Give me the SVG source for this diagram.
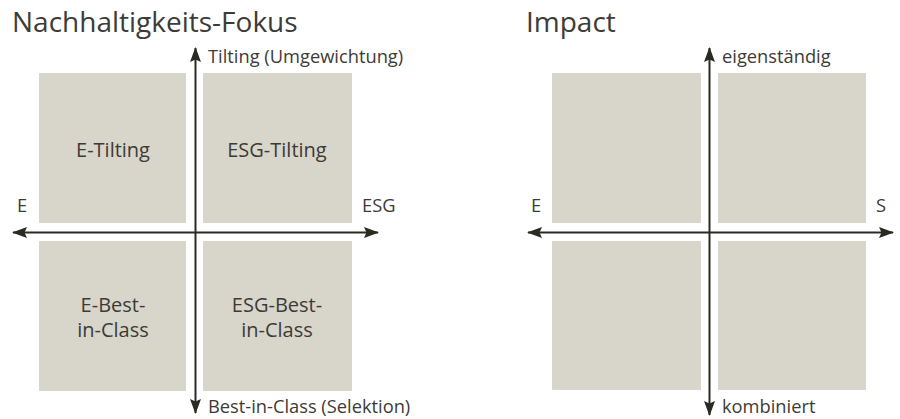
<svg xmlns="http://www.w3.org/2000/svg" width="900" height="419" viewBox="0 0 900 419">
<style>
text{font-family:"Open Sans","Noto Sans","DejaVu Sans",sans-serif;fill:#3d3b36}
.title{font-size:28px}
.box{fill:#d8d5cb}
.lbl{font-size:20px;text-anchor:middle}
.ax{font-size:18.3px}
.axis{stroke:#2b2a22;stroke-width:2;fill:none}
</style>
<defs>
<marker id="arr" viewBox="0 0 15 11" refX="14" refY="5.5" markerWidth="15" markerHeight="11" markerUnits="userSpaceOnUse" orient="auto-start-reverse">
<path d="M0,0 L15,5.5 L0,11 L2.5,5.5 Z" fill="#2b2a22"/>
</marker>
</defs>
<text class="title" x="12" y="32">Nachhaltigkeits-Fokus</text>
<text class="title" x="526" y="32">Impact</text>
<g id="n-e-tilting"><rect class="box" x="39" y="73" width="147" height="150"/><text class="lbl" x="113" y="157">E-Tilting</text></g>
<g id="n-esg-tilting"><rect class="box" x="203" y="73" width="149" height="150"/><text class="lbl" x="277" y="157">ESG-Tilting</text></g>
<g id="n-e-bic"><rect class="box" x="39" y="241" width="147" height="150"/><text class="lbl" x="113" y="312">E-Best-</text><text class="lbl" x="113" y="337">in-Class</text></g>
<g id="n-esg-bic"><rect class="box" x="203" y="241" width="149" height="150"/><text class="lbl" x="277" y="312">ESG-Best-</text><text class="lbl" x="277" y="337">in-Class</text></g>
<g id="n-i-tl"><rect class="box" x="552" y="73" width="149" height="150"/></g>
<g id="n-i-tr"><rect class="box" x="718" y="73" width="148" height="150"/></g>
<g id="n-i-bl"><rect class="box" x="552" y="241" width="149" height="149"/></g>
<g id="n-i-br"><rect class="box" x="718" y="241" width="148" height="149"/></g>
<g id="connectors">
<line class="axis" x1="195.5" y1="413" x2="195.5" y2="48" marker-start="url(#arr)" marker-end="url(#arr)"/>
<line class="axis" x1="13" y1="232.5" x2="378" y2="232.5" marker-start="url(#arr)" marker-end="url(#arr)"/>
<line class="axis" x1="709.5" y1="415" x2="709.5" y2="48" marker-start="url(#arr)" marker-end="url(#arr)"/>
<line class="axis" x1="528" y1="232.5" x2="893" y2="232.5" marker-start="url(#arr)" marker-end="url(#arr)"/>
</g>
<g id="axis-labels">
<text class="ax" x="208" y="63">Tilting (Umgewichtung)</text>
<text class="ax" x="208" y="413">Best-in-Class (Selektion)</text>
<text class="ax" x="17" y="212">E</text>
<text class="ax" x="362" y="212">ESG</text>
<text class="ax" x="722" y="63">eigenständig</text>
<text class="ax" x="722" y="413">kombiniert</text>
<text class="ax" x="531" y="212">E</text>
<text class="ax" x="876" y="212">S</text>
</g>
</svg>
